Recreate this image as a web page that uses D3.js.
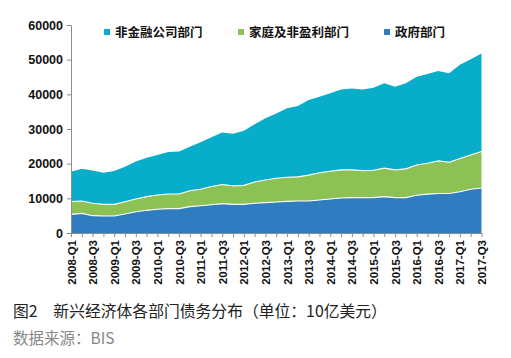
<!DOCTYPE html>
<html>
<head>
<meta charset="utf-8">
<script src="https://cdn.jsdelivr.net/npm/d3@7"></script>
<style>
  html, body { margin: 0; padding: 0; background: #fff; }
  svg { display: block; }
</style>
</head>
<body>
<svg id="chart" width="511" height="358"></svg>
<script>
// ---- Data (10 亿美元) ----
const quarters = [
  "2008-Q1","2008-Q2","2008-Q3","2008-Q4","2009-Q1","2009-Q2","2009-Q3","2009-Q4",
  "2010-Q1","2010-Q2","2010-Q3","2010-Q4","2011-Q1","2011-Q2","2011-Q3","2011-Q4",
  "2012-Q1","2012-Q2","2012-Q3","2012-Q4","2013-Q1","2013-Q2","2013-Q3","2013-Q4",
  "2014-Q1","2014-Q2","2014-Q3","2014-Q4","2015-Q1","2015-Q2","2015-Q3","2015-Q4",
  "2016-Q1","2016-Q2","2016-Q3","2016-Q4","2017-Q1","2017-Q2","2017-Q3"
];
const government = [
  5380,5670,5000,4900,4900,5480,6150,6540,6830,7020,7020,7600,7880,8170,8460,8270,
  8270,8600,8750,8940,9130,9230,9230,9520,9800,10100,10200,10200,10200,10500,10200,10200,
  10900,11200,11400,11400,11900,12600,13000
];
const households = [
  3660,3560,3560,3370,3370,3560,3650,3960,4130,4230,4230,4600,4720,5230,5540,5330,
  5480,6100,6550,6860,6970,6970,7470,7880,8000,8100,8000,7800,7900,8200,8000,8300,
  8700,8900,9400,9000,9600,9900,10500
];
const nonFinancial = [
  8660,9270,9440,9130,9630,10060,10800,11200,11540,12150,12250,12700,13600,14200,15000,15000,
  15750,16700,17800,18700,19900,20400,21700,21900,22500,23200,23500,23400,23800,24500,24000,24700,
  25500,25800,25900,25700,27000,27600,28300
];
const seriesNames = ["政府部门", "家庭及非盈利部门", "非金融公司部门"];
const legendOrder = ["非金融公司部门", "家庭及非盈利部门", "政府部门"];
const yTicks = [0, 10000, 20000, 30000, 40000, 50000, 60000];
const xLabels = quarters.filter((q, i) => i % 2 === 0);
const captionText = "图2　新兴经济体各部门债务分布（单位：10亿美元）";
const sourceText = "数据来源：BIS";

const colors = {
  "政府部门": "#2f7dc0",
  "家庭及非盈利部门": "#8cc153",
  "非金融公司部门": "#08adc9"
};

// ---- Build table ----
const table = quarters.map((q, i) => ({
  q,
  "政府部门": government[i],
  "家庭及非盈利部门": households[i],
  "非金融公司部门": nonFinancial[i]
}));
const stacked = d3.stack().keys(seriesNames)(table);

// ---- Layout ----
const svg = d3.select("#chart");
const plotLeft = 71, plotRight = 481.5, plotTop = 25, plotBottom = 233;

const x = d3.scalePoint().domain(quarters).range([plotLeft, plotRight]);
const y = d3.scaleLinear().domain([0, 60000]).range([plotBottom, plotTop]);

const area = d3.area()
  .x(d => x(d.data.q))
  .y0(d => y(d[0]))
  .y1(d => y(d[1]));

svg.append("g").selectAll("path")
  .data(stacked)
  .join("path")
  .attr("d", area)
  .attr("fill", d => colors[d.key]);

// white separating lines on top of lower layers
const topLine = d3.line().x(d => x(d.data.q)).y(d => y(d[1]));
svg.append("g").selectAll("path")
  .data(stacked.slice(0, 2))
  .join("path")
  .attr("d", topLine)
  .attr("fill", "none")
  .attr("stroke", "#fff")
  .attr("stroke-width", 1.1);

// ---- Axes ----
const axisColor = "#8c8c8c";
const yAxis = svg.append("g")
  .attr("transform", `translate(${plotLeft},0)`)
  .call(d3.axisLeft(y).tickValues(yTicks).tickSize(4).tickPadding(4).tickFormat(d3.format("d")));
yAxis.select(".domain").attr("stroke", axisColor);
yAxis.selectAll(".tick line").attr("stroke", axisColor);
yAxis.selectAll("text")
  .attr("font-family", "'Liberation Sans', Arial, sans-serif")
  .attr("font-weight", "bold")
  .attr("font-size", "12.5px")
  .attr("fill", "#111");

const xAxis = svg.append("g")
  .attr("transform", `translate(0,${plotBottom})`)
  .call(d3.axisBottom(x).tickSize(4).tickSizeOuter(0).tickFormat(d => xLabels.includes(d) ? d : ""));
xAxis.select(".domain").attr("stroke", axisColor);
xAxis.selectAll(".tick line").attr("stroke", axisColor);
xAxis.selectAll("text")
  .attr("font-family", "'Liberation Sans', Arial, sans-serif")
  .attr("font-weight", "bold")
  .attr("font-size", "11.5px")
  .attr("fill", "#111")
  .attr("text-anchor", "end")
  .attr("dy", "0.35em")
  .attr("transform", "translate(0,7) rotate(-90)")
  .attr("x", 0)
  .attr("y", 0);

// ---- Legend ----
const legendX = [104, 238, 384];
const lg = svg.append("g");
legendOrder.forEach((name, i) => {
  const g = lg.append("g").attr("transform", `translate(${legendX[i]},32)`);
  g.append("rect").attr("x", 0).attr("y", -3).attr("width", 6).attr("height", 6).attr("fill", colors[name]);
  g.append("text")
    .attr("x", 11).attr("y", 0).attr("dy", "0.36em")
    .attr("font-family", "'Noto Sans CJK SC', sans-serif")
    .attr("font-weight", "bold")
    .attr("font-size", "12.5px")
    .attr("fill", "#111")
    .text(name);
});

// ---- Caption ----
svg.append("text")
  .attr("x", 13).attr("y", 317)
  .attr("font-family", "'Noto Sans CJK SC', sans-serif")
  .attr("font-size", "15.8px")
  .attr("fill", "#222")
  .text(captionText);
svg.append("text")
  .attr("x", 13).attr("y", 344)
  .attr("font-family", "'Noto Sans CJK SC', sans-serif")
  .attr("font-size", "15.5px")
  .attr("fill", "#888")
  .text(sourceText);
</script>
</body>
</html>
